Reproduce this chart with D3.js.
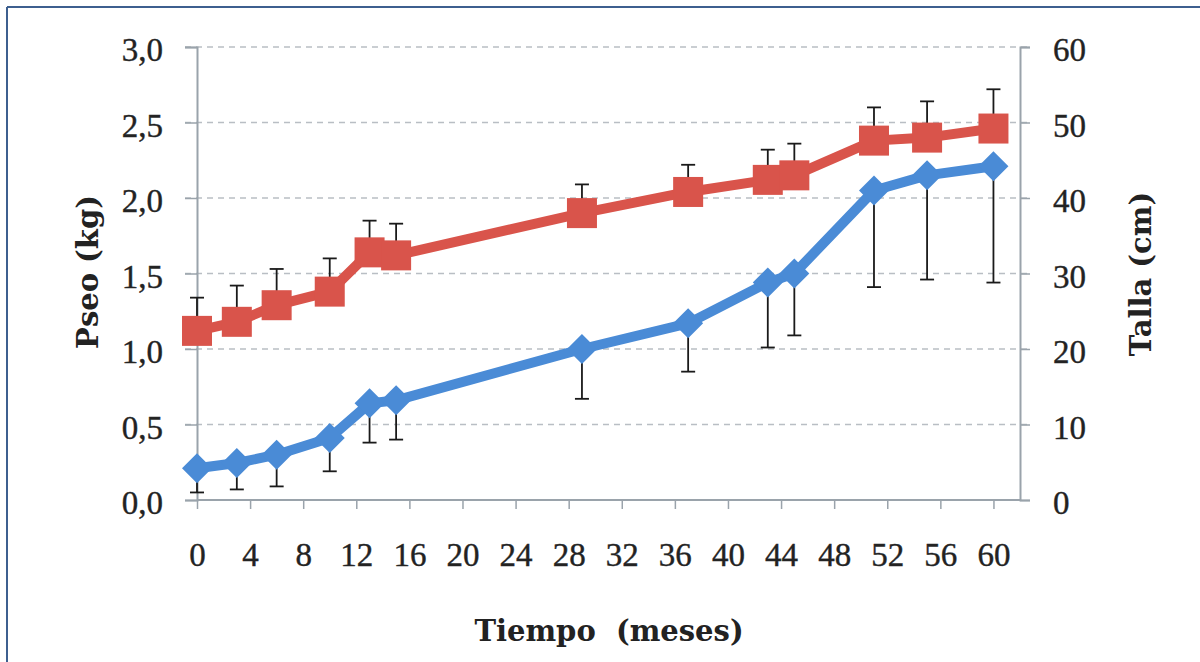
<!DOCTYPE html>
<html>
<head>
<meta charset="utf-8">
<script src="https://cdn.jsdelivr.net/npm/d3@7"></script>
<style>
  body { margin: 0; background: #fff; }
  svg { display: block; }
  text { font-family: "Liberation Serif", "DejaVu Serif", serif; fill: #222; }
</style>
</head>
<body>
<div id="chart"></div>
<script>
// months of measurement
const meses = [0, 3, 6, 10, 13, 15, 29, 37, 43, 45, 51, 55, 60];
// weight (kg), left axis - blue diamonds, error bar downward
const peso = [0.21, 0.245, 0.30, 0.41, 0.64, 0.66, 1.00, 1.17, 1.44, 1.50, 2.05, 2.15, 2.21];
const pesoDE = [0.16, 0.175, 0.21, 0.22, 0.26, 0.26, 0.33, 0.32, 0.43, 0.41, 0.64, 0.69, 0.77];
// length (cm), right axis - red squares, error bar upward
const talla = [22.4, 23.6, 25.8, 27.6, 32.8, 32.4, 38.0, 40.8, 42.4, 43.0, 47.6, 48.0, 49.2];
const tallaDE = [4.4, 4.8, 4.8, 4.4, 4.2, 4.2, 3.8, 3.6, 4.0, 4.2, 4.4, 4.8, 5.2];

const xTicks = d3.range(0, 61, 4);
const yLeftTicks = [0, 0.5, 1, 1.5, 2, 2.5, 3];
const yRightTicks = [0, 10, 20, 30, 40, 50, 60];

const width = 1200, height = 662;
const plot = { left: 197, right: 1020, top: 47, bottom: 500 };

const x = d3.scaleLinear().domain([0, 62]).range([plot.left, plot.right]);
const yL = d3.scaleLinear().domain([0, 3]).range([plot.bottom, plot.top]);
const yR = d3.scaleLinear().domain([0, 60]).range([plot.bottom, plot.top]);

const comma = (f) => (v) => d3.format(f)(v).replace(".", ",");

const red = "#d9544b", blue = "#4a8bd6";

const svg = d3.select("#chart").append("svg")
  .attr("width", width)
  .attr("height", height);

// frame (top and left edges only visible)
svg.append("line").attr("x1", 7).attr("x2", width).attr("y1", 7).attr("y2", 7)
  .attr("stroke", "#3d5f8f").attr("stroke-width", 2);
svg.append("line").attr("x1", 7).attr("x2", 7).attr("y1", 7).attr("y2", height)
  .attr("stroke", "#3d5f8f").attr("stroke-width", 2);

// gridlines
svg.append("g")
  .selectAll("line")
  .data(yLeftTicks.slice(1))
  .enter()
  .append("line")
  .attr("x1", plot.left - 12)
  .attr("x2", plot.right + 10)
  .attr("y1", (d) => yL(d))
  .attr("y2", (d) => yL(d))
  .attr("stroke", "#b9bec4")
  .attr("stroke-width", 1.5)
  .attr("stroke-dasharray", "6,5");

// axes
const axisColor = "#9aa3ab";
const gx = svg.append("g")
  .attr("transform", "translate(0," + plot.bottom + ")")
  .call(d3.axisBottom(x).tickValues(xTicks).tickSize(9).tickPadding(34).tickFormat(d3.format("d")));
const gl = svg.append("g")
  .attr("transform", "translate(" + plot.left + ",0)")
  .call(d3.axisLeft(yL).tickValues(yLeftTicks).tickSize(12).tickPadding(22).tickFormat(comma(".1f")));
const gr = svg.append("g")
  .attr("transform", "translate(" + plot.right + ",0)")
  .call(d3.axisRight(yR).tickValues(yRightTicks).tickSize(10).tickPadding(23).tickFormat(d3.format("d")));

[gx, gl, gr].forEach((g) => {
  g.select(".domain").attr("stroke", axisColor).attr("stroke-width", 2);
  g.selectAll(".tick line").attr("stroke", axisColor).attr("stroke-width", 1.5);
  g.selectAll(".tick text")
    .style("font-family", "'Liberation Serif', serif")
    .style("font-size", "33px")
    .attr("fill", "#2a2a2a")
    .attr("stroke", "#2a2a2a")
    .attr("stroke-width", 0.4);
});
gx.select(".domain").attr("d", "M" + plot.left + ",0H" + plot.right);
gl.selectAll(".tick text").attr("dy", "0.42em");
gr.selectAll(".tick text").attr("dy", "0.42em");

const pts = meses.map((m, i) => ({ m: m, p: peso[i], pd: pesoDE[i], t: talla[i], td: tallaDE[i] }));

// error bars
const err = svg.append("g").attr("stroke", "#1a1a1a").attr("stroke-width", 1.8);
pts.forEach((d) => {
  err.append("line").attr("x1", x(d.m)).attr("x2", x(d.m))
    .attr("y1", yR(d.t)).attr("y2", yR(d.t + d.td));
  err.append("line").attr("x1", x(d.m) - 7).attr("x2", x(d.m) + 7)
    .attr("y1", yR(d.t + d.td)).attr("y2", yR(d.t + d.td));
  err.append("line").attr("x1", x(d.m)).attr("x2", x(d.m))
    .attr("y1", yL(d.p)).attr("y2", yL(d.p - d.pd));
  err.append("line").attr("x1", x(d.m) - 7).attr("x2", x(d.m) + 7)
    .attr("y1", yL(d.p - d.pd)).attr("y2", yL(d.p - d.pd));
});

// lines
svg.append("path")
  .datum(pts)
  .attr("fill", "none")
  .attr("stroke", red)
  .attr("stroke-width", 10)
  .attr("stroke-linejoin", "round")
  .attr("d", d3.line().x((d) => x(d.m)).y((d) => yR(d.t)));

svg.append("path")
  .datum(pts)
  .attr("fill", "none")
  .attr("stroke", blue)
  .attr("stroke-width", 10)
  .attr("stroke-linejoin", "round")
  .attr("d", d3.line().x((d) => x(d.m)).y((d) => yL(d.p)));

// markers
svg.append("g")
  .selectAll("rect")
  .data(pts)
  .enter()
  .append("rect")
  .attr("x", (d) => x(d.m) - 15)
  .attr("y", (d) => yR(d.t) - 15)
  .attr("width", 30)
  .attr("height", 30)
  .attr("fill", red);

svg.append("g")
  .selectAll("path")
  .data(pts)
  .enter()
  .append("path")
  .attr("transform", (d) => "translate(" + x(d.m) + "," + yL(d.p) + ")")
  .attr("d", "M0,-15L15,0L0,15L-15,0Z")
  .attr("fill", blue);

// axis titles
const titleFont = "'DejaVu Serif', serif";
svg.append("text")
  .attr("transform", "translate(98,272) rotate(-90)")
  .attr("text-anchor", "middle")
  .style("font-family", titleFont)
  .style("font-weight", "bold")
  .style("font-size", "29px")
  .text("Pseo (kg)");

svg.append("text")
  .attr("transform", "translate(1151,274) rotate(-90)")
  .attr("text-anchor", "middle")
  .style("font-family", titleFont)
  .style("font-weight", "bold")
  .style("font-size", "29px")
  .text("Talla (cm)");

svg.append("text")
  .attr("x", 609)
  .attr("y", 641)
  .attr("text-anchor", "middle")
  .style("font-family", titleFont)
  .style("font-weight", "bold")
  .style("font-size", "29px")
  .style("white-space", "pre")
  .attr("xml:space", "preserve")
  .text("Tiempo  (meses)");
</script>
</body>
</html>
